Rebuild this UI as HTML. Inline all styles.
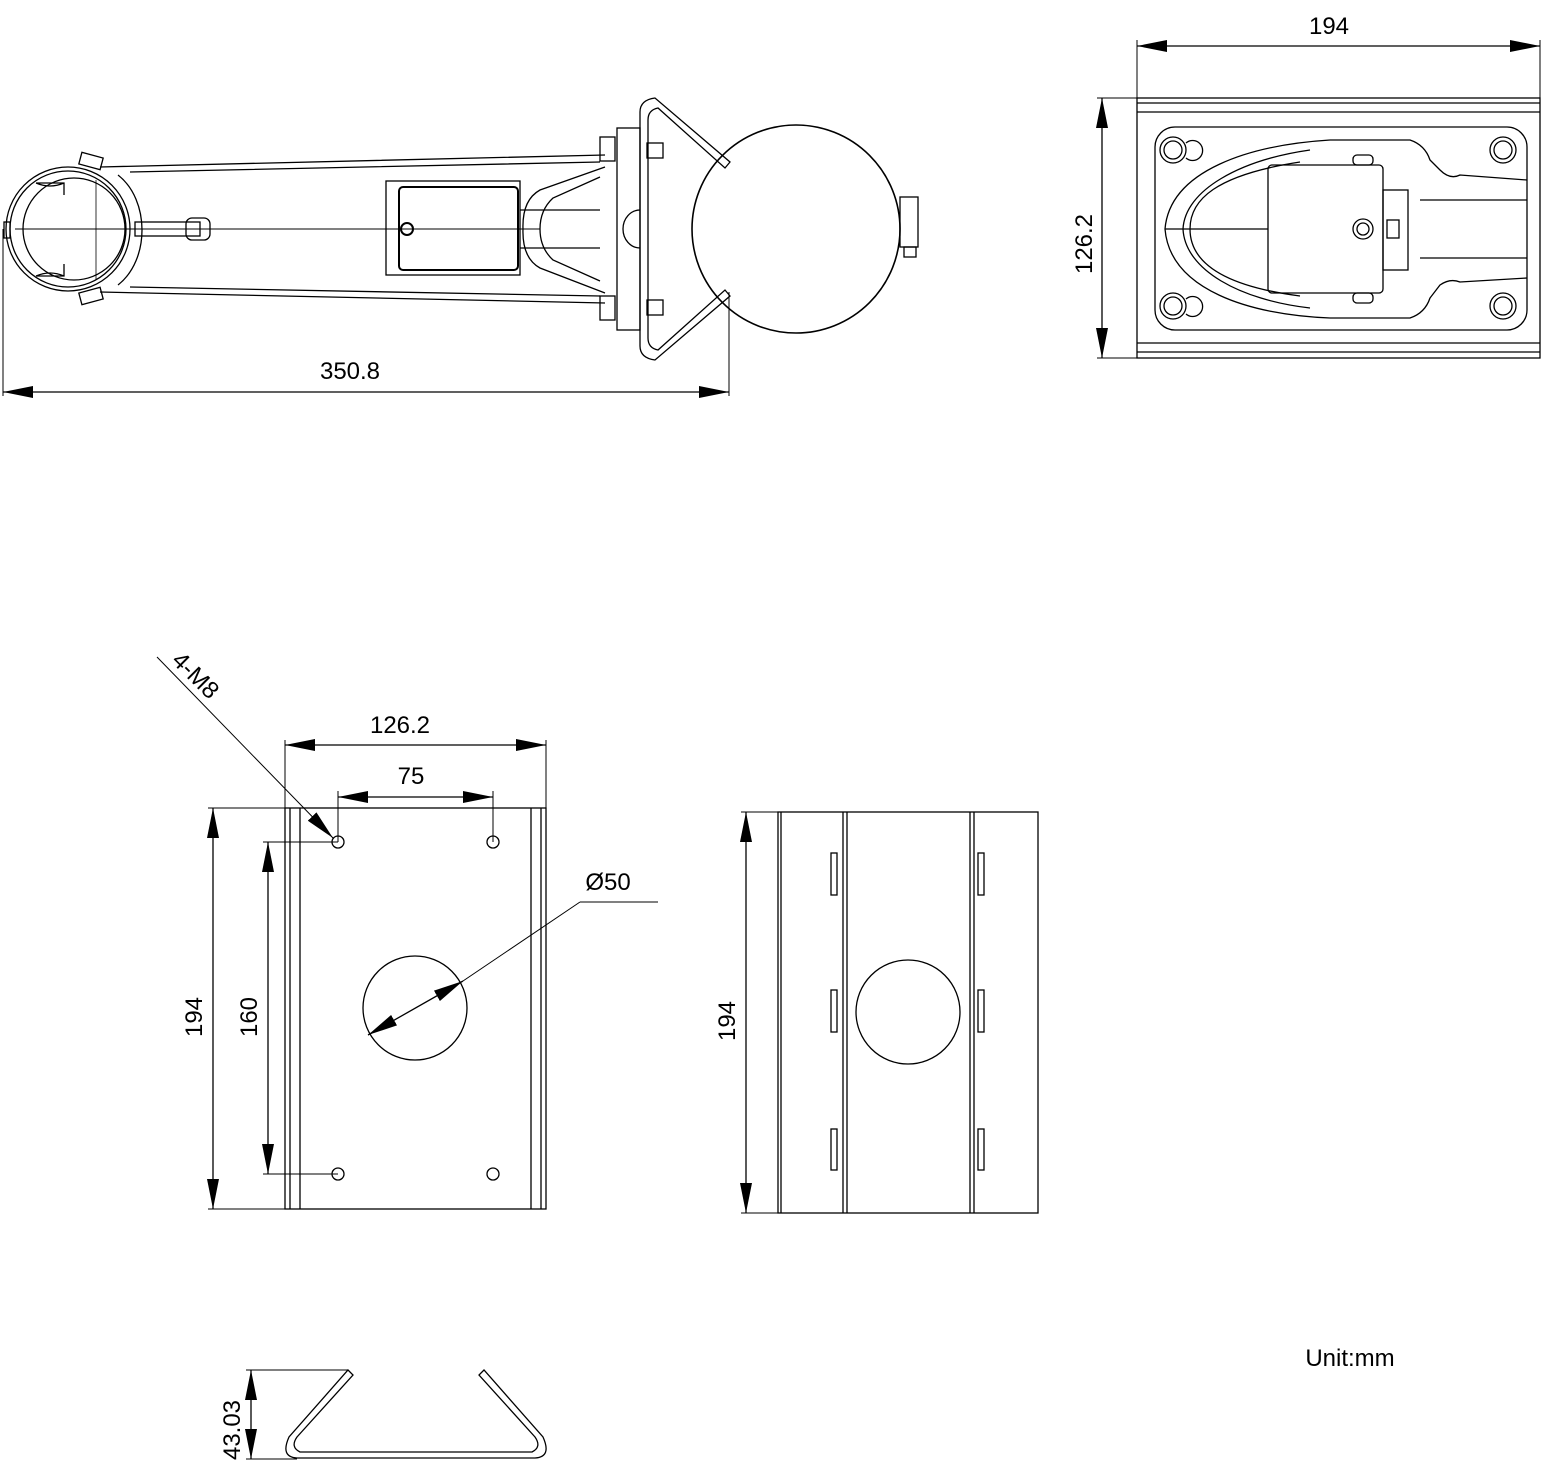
<!DOCTYPE html>
<html><head><meta charset="utf-8"><style>
html,body{margin:0;padding:0;background:#fff}
svg{display:block}
text{font-family:"Liberation Sans","DejaVu Sans",sans-serif;font-size:24px;fill:#000}
</style></head><body>
<svg width="1543" height="1478" viewBox="0 0 1543 1478" xmlns="http://www.w3.org/2000/svg">
<defs>
<marker id="a" viewBox="0 0 30 12" refX="30" refY="6" markerWidth="30" markerHeight="12" markerUnits="userSpaceOnUse" orient="auto-start-reverse"><path d="M0,0 L30,6 L0,12z" fill="#000"/></marker>
</defs>
<g fill="none" stroke="#000" stroke-width="1.3">
<!-- TOP LEFT VIEW -->
<circle cx="68" cy="229" r="62"/>
<circle cx="68" cy="229" r="58"/>
<circle cx="74" cy="229" r="51"/>
<rect x="80" y="155" width="22" height="12" transform="rotate(15 91 161)"/>
<rect x="80" y="290" width="22" height="12" transform="rotate(-15 91 296)"/>
<path d="M36,183 h28 v12 M36,276 h28 v-12 M36,183 q14,6 28,0 M36,276 q14,-6 28,0"/>
<rect x="4" y="222" width="6" height="16"/>
<line x1="15" y1="229" x2="540" y2="229" stroke-width="1"/>
<line x1="96" y1="180" x2="96" y2="280" stroke-width="0.8"/>
<path d="M100,167 L605,155 M100,292 L605,303 M130,172 L600,162 M130,287 L600,296"/>
<path d="M118,175 C150,200 150,260 118,285"/>
<rect x="135" y="222" width="65" height="14"/>
<rect x="186" y="218" width="24" height="22" rx="6"/>
<rect x="386" y="181" width="134" height="94"/>
<rect x="399" y="187" width="119" height="83" rx="4" stroke-width="2"/>
<circle cx="407" cy="229" r="6" stroke-width="2"/>
<path d="M605,167 L540,190 Q522,200 523,229 Q522,258 540,268 L605,293"/>
<path d="M600,177 L553,198 Q540,210 540,229 Q540,248 553,260 L600,281"/>
<path d="M520,210 h80 M520,248 h80"/>
<rect x="600" y="137" width="15" height="24"/>
<rect x="600" y="296" width="15" height="24"/>
<rect x="617" y="128" width="23" height="202"/>
<path d="M640,210 a17,19 0 0,0 0,38"/>
<rect x="647" y="143" width="16" height="15"/>
<rect x="647" y="300" width="16" height="15"/>
<path d="M640,112 Q640,100 655,98 L730,162 L725,168 L658,108 Q648,110 648,120 L648,338 Q648,348 658,350 L725,290 L730,296 L655,360 Q640,358 640,346 Z"/>
<circle cx="796" cy="229" r="104" stroke-width="1.6"/>
<rect x="900" y="197" width="18" height="50"/>
<rect x="904" y="247" width="12" height="10"/>
<line x1="3" y1="229" x2="3" y2="396" stroke-width="1"/>
<line x1="729" y1="292" x2="729" y2="396" stroke-width="1"/>
<line x1="3" y1="392" x2="729" y2="392" marker-start="url(#a)" marker-end="url(#a)"/>
<!-- TOP RIGHT VIEW -->
<rect x="1137" y="98" width="403" height="260"/>
<path d="M1137,103 H1540 M1137,112 H1540 M1137,343 H1540 M1137,352 H1540"/>
<rect x="1155" y="127" width="372" height="203" rx="20"/>
<g>
<circle cx="1173" cy="150" r="13"/><circle cx="1173" cy="150" r="9"/>
<circle cx="1503" cy="150" r="13"/><circle cx="1503" cy="150" r="9"/>
<circle cx="1173" cy="306" r="13"/><circle cx="1173" cy="306" r="9"/>
<circle cx="1503" cy="306" r="13"/><circle cx="1503" cy="306" r="9"/>
<path d="M1186,143 a10,10 0 1,1 0,15 M1186,299 a10,10 0 1,1 0,15"/>
</g>
<path d="M1330,140 L1410,140 Q1425,145 1430,160 L1440,170 Q1450,180 1460,175 L1527,180 M1330,318 L1410,318 Q1425,313 1430,298 L1440,285 Q1450,278 1460,282 L1527,278"/>
<path d="M1330,140 C1250,145 1170,170 1165,229 C1170,290 1250,315 1330,318"/>
<path d="M1310,150 C1240,160 1185,190 1183,229 C1185,270 1240,300 1310,308"/>
<path d="M1300,162 C1215,175 1190,200 1190,229 C1190,258 1215,285 1300,296"/>
<rect x="1268" y="165" width="115" height="128" rx="4"/>
<rect x="1383" y="190" width="25" height="80"/>
<circle cx="1363" cy="229" r="10"/><circle cx="1363" cy="229" r="6"/>
<rect x="1387" y="220" width="12" height="18"/>
<path d="M1420,200 L1527,200 M1420,258 L1527,258 M1165,229 H1268"/>
<rect x="1353" y="155" width="20" height="10" rx="4"/>
<rect x="1353" y="293" width="20" height="10" rx="4"/>
<line x1="1137" y1="40" x2="1137" y2="98" stroke-width="1"/>
<line x1="1540" y1="40" x2="1540" y2="98" stroke-width="1"/>
<line x1="1137" y1="46" x2="1540" y2="46" marker-start="url(#a)" marker-end="url(#a)"/>
<line x1="1097" y1="98" x2="1137" y2="98" stroke-width="1"/>
<line x1="1097" y1="358" x2="1137" y2="358" stroke-width="1"/>
<line x1="1102" y1="98" x2="1102" y2="358" marker-start="url(#a)" marker-end="url(#a)"/>
<!-- BOTTOM LEFT PLATE -->
<rect x="285" y="808" width="261" height="401"/>
<path d="M290,808 V1209 M300,808 V1209 M531,808 V1209 M541,808 V1209"/>
<circle cx="338" cy="842" r="6"/><circle cx="493" cy="842" r="6"/>
<circle cx="338" cy="1174" r="6"/><circle cx="493" cy="1174" r="6"/>
<circle cx="415" cy="1008" r="52"/>
<path d="M285,740 V808 M546,740 V808 M338,791 V842 M493,791 V842" stroke-width="1"/>
<line x1="285" y1="745" x2="546" y2="745" marker-start="url(#a)" marker-end="url(#a)"/>
<line x1="338" y1="797" x2="493" y2="797" marker-start="url(#a)" marker-end="url(#a)"/>
<path d="M208,808 H285 M208,1209 H285 M263,842 H338 M263,1174 H338" stroke-width="1"/>
<line x1="213" y1="808" x2="213" y2="1209" marker-start="url(#a)" marker-end="url(#a)"/>
<line x1="268" y1="842" x2="268" y2="1174" marker-start="url(#a)" marker-end="url(#a)"/>
<line x1="157" y1="657" x2="333" y2="838" stroke-width="1" marker-end="url(#a)"/>
<line x1="658" y1="902" x2="580" y2="902" stroke-width="1"/>
<line x1="580" y1="902" x2="463" y2="981" stroke-width="1"/>
<line x1="463" y1="981" x2="368" y2="1035" marker-start="url(#a)" marker-end="url(#a)"/>
<!-- MIDDLE PLATE -->
<rect x="778" y="812" width="260" height="401"/>
<path d="M781,812 V1213 M843,812 V1213 M847,812 V1213 M970,812 V1213 M974,812 V1213"/>
<rect x="831" y="853" width="6" height="42"/><rect x="831" y="990" width="6" height="42"/><rect x="831" y="1129" width="6" height="41"/>
<rect x="978" y="853" width="6" height="42"/><rect x="978" y="990" width="6" height="42"/><rect x="978" y="1129" width="6" height="41"/>
<circle cx="908" cy="1012" r="52"/>
<path d="M741,812 H778 M741,1213 H778" stroke-width="1"/>
<line x1="746" y1="812" x2="746" y2="1213" marker-start="url(#a)" marker-end="url(#a)"/>
<!-- CHANNEL -->
<path d="M348,1370 L353,1375 L297,1437 Q290,1447 300,1452 L532,1452 Q542,1447 535,1437 L479,1375 L484,1370 L543,1437 Q552,1457 535,1458 L297,1458 Q280,1457 289,1437 Z"/>
<path d="M246,1370 H348 M246,1459 H297" stroke-width="1"/>
<line x1="251" y1="1370" x2="251" y2="1459" marker-start="url(#a)" marker-end="url(#a)"/>
</g>
<text x="1329" y="34" text-anchor="middle">194</text>
<text x="350" y="379" text-anchor="middle">350.8</text>
<text transform="translate(1092,244) rotate(-90)" text-anchor="middle">126.2</text>
<text x="400" y="733" text-anchor="middle">126.2</text>
<text x="411" y="784" text-anchor="middle">75</text>
<text x="608" y="890" text-anchor="middle">Ø50</text>
<text transform="translate(202,1017) rotate(-90)" text-anchor="middle">194</text>
<text transform="translate(257,1017) rotate(-90)" text-anchor="middle">160</text>
<text transform="translate(735,1021) rotate(-90)" text-anchor="middle">194</text>
<text transform="translate(240,1430) rotate(-90)" text-anchor="middle">43.03</text>
<text transform="translate(190,681) rotate(45)" text-anchor="middle">4-M8</text>
<text x="1350" y="1366" text-anchor="middle">Unit:mm</text>
</svg>
</body></html>
